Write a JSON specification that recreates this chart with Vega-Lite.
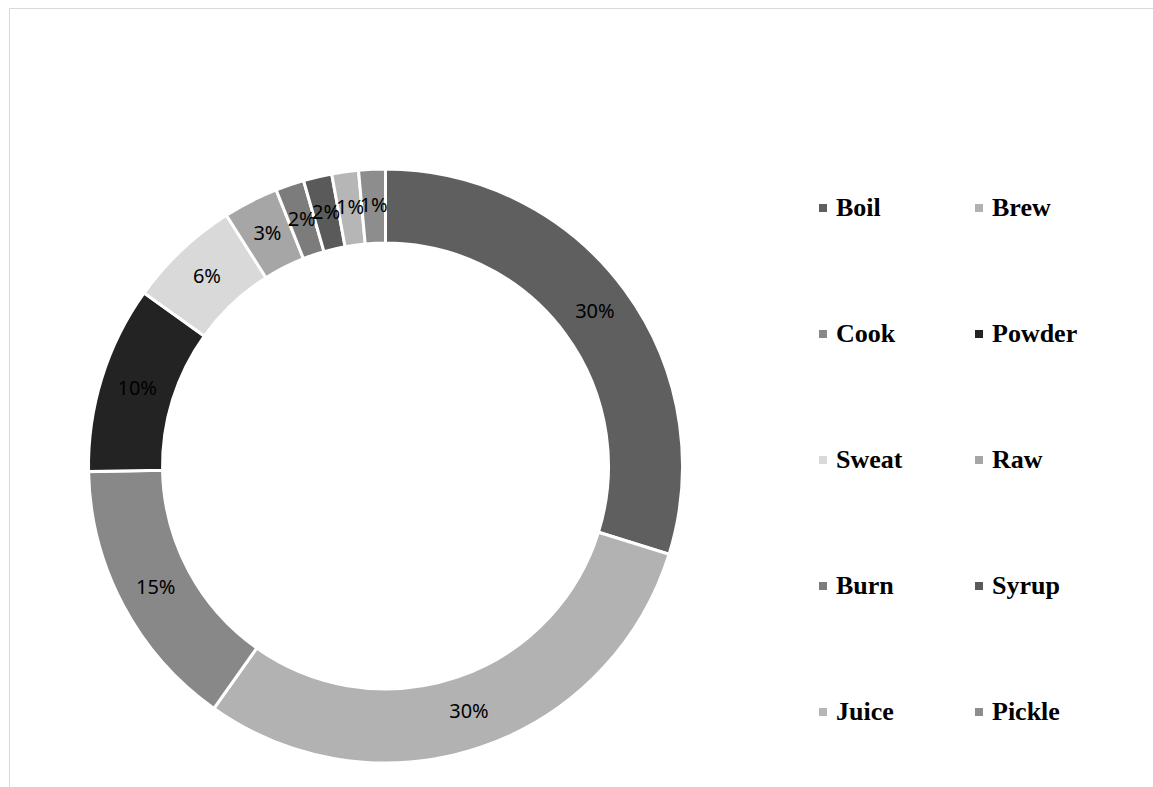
{
  "$schema": "https://vega.github.io/schema/vega-lite/v6.json",
  "background": "white",
  "padding": {"left": 8, "top": 7, "right": 0, "bottom": 0},
  "spacing": 0,
  "bounds": "flush",
  "config": {"view": {"stroke": "#d9d9d9", "strokeWidth": 1}},
  "vconcat": [
    {
      "width": 1145,
      "height": 136,
      "view": {"stroke": "#d9d9d9", "strokeDash": [1145, 1281, 140, 0]},
      "data": {"values": []},
      "mark": {"type": "text"},
      "encoding": {}
    },
    {
      "width": 753,
      "height": 644,
      "view": {"stroke": "#d9d9d9", "strokeDash": [0, 2146, 648, 0]},
      "data": {"values": [
        {"method": "Boil", "value": 29.8, "pct": "30%", "idx": 1},
        {"method": "Brew", "value": 30.0, "pct": "30%", "idx": 2},
        {"method": "Cook", "value": 14.9, "pct": "15%", "idx": 3},
        {"method": "Powder", "value": 10.2, "pct": "10%", "idx": 4},
        {"method": "Sweat", "value": 6.1, "pct": "6%", "idx": 5},
        {"method": "Raw", "value": 3.0, "pct": "3%", "idx": 6},
        {"method": "Burn", "value": 1.55, "pct": "2%", "idx": 7},
        {"method": "Syrup", "value": 1.55, "pct": "2%", "idx": 8},
        {"method": "Juice", "value": 1.45, "pct": "1%", "idx": 9},
        {"method": "Pickle", "value": 1.45, "pct": "1%", "idx": 10}
      ]},
      "encoding": {
        "theta": {"field": "value", "type": "quantitative", "stack": true},
        "order": {"field": "idx", "type": "quantitative"}
      },
      "layer": [
        {
          "mark": {"type": "arc", "innerRadius": 223, "outerRadius": 297, "stroke": "white", "strokeWidth": 3},
          "encoding": {
            "color": {
              "field": "method",
              "type": "nominal",
              "sort": null,
              "scale": {
                "domain": ["Boil", "Brew", "Cook", "Powder", "Sweat", "Raw", "Burn", "Syrup", "Juice", "Pickle"],
                "range": ["#5f5f5f", "#b2b2b2", "#888888", "#232323", "#d9d9d9", "#a6a6a6", "#7c7c7c", "#5a5a5a", "#b6b6b6", "#8d8d8d"]
              },
              "legend": {
                "orient": "none",
                "direction": "horizontal",
                "legendX": 801,
                "legendY": 187,
                "columns": 2,
                "title": null,
                "symbolType": "square",
                "symbolSize": 64,
                "symbolStrokeWidth": 0,
                "labelFont": "Liberation Serif",
                "labelFontWeight": "bold",
                "labelFontSize": 26,
                "labelColor": "black",
                "labelOffset": 0,
                "labelLimit": 300,
                "rowPadding": 100,
                "columnPadding": 63
              }
            }
          }
        },
        {
          "mark": {"type": "text", "radius": 260, "font": "Noto Sans", "fontSize": 20, "color": "black"},
          "encoding": {
            "text": {"field": "pct", "type": "nominal"},
            "detail": {"field": "method", "type": "nominal"}
          }
        }
      ]
    }
  ]
}
